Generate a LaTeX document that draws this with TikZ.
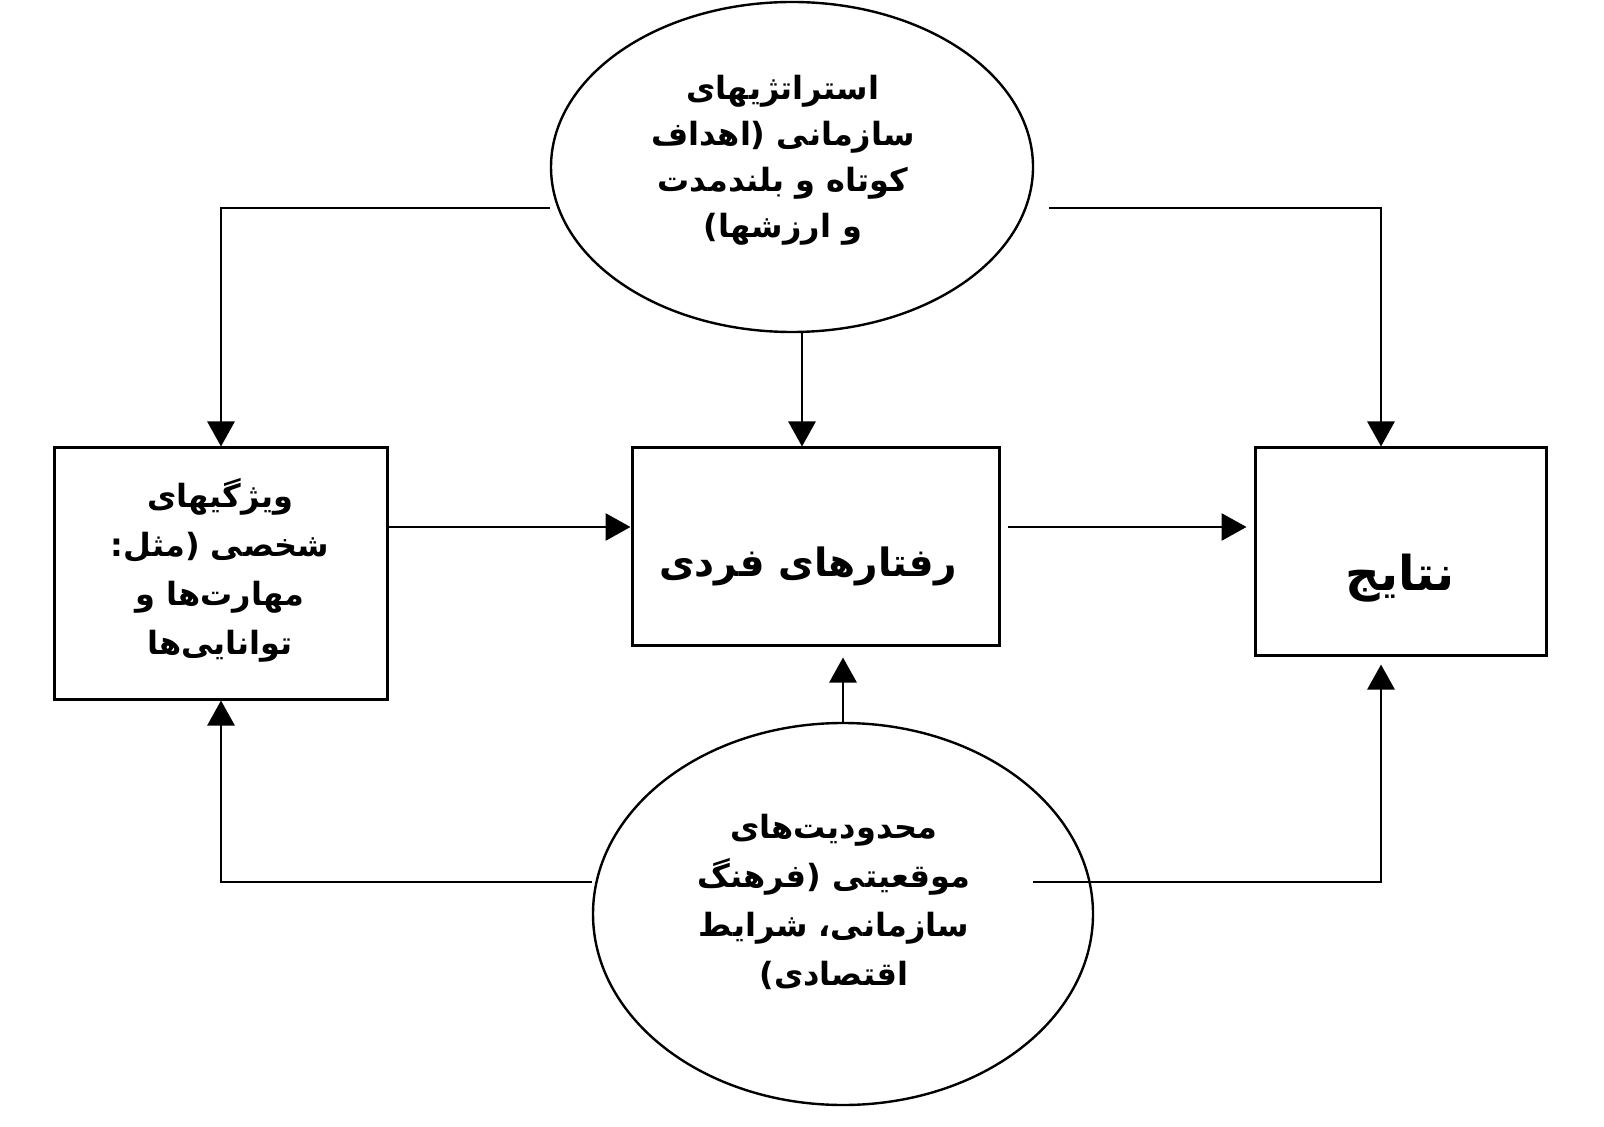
\documentclass[tikz,border=0pt]{standalone}
\usepackage{fontspec}
\usetikzlibrary{shapes.geometric,arrows.meta,calc}
\TeXXeTstate=1
\newfontfamily\arabicfont[Script=Arabic]{DejaVu Sans}
\newcommand\fa[1]{\beginR #1\endR}
\begin{document}
\begin{tikzpicture}[x=0.5pt,y=-0.5pt,
  box/.style={draw,line width=1.5pt,inner sep=0pt},
  ell/.style={draw,ellipse,line width=1.2pt,inner sep=0pt},
  txt/.style={font=\arabicfont\bfseries\fontsize{16}{23}\selectfont,align=center,inner sep=0pt},
  txtb/.style={font=\arabicfont\bfseries\fontsize{16}{24.5}\selectfont,align=center,inner sep=0pt},
  midtxt/.style={font=\arabicfont\bfseries\fontsize{19.5}{24}\selectfont,inner sep=0pt},
  bigtxt/.style={font=\arabicfont\bfseries\fontsize{24}{28}\selectfont,inner sep=0pt},
  conn/.style={line width=1.4pt},
  arr/.style={conn,-{Triangle[length=12.5pt,width=13.5pt]}}]
\useasboundingbox (0,0) rectangle (1604,1127);
\fill[white] (0,0) rectangle (1604,1127);
% shapes
\node[ell,minimum width=241pt,minimum height=165pt] (top) at (792,167) {};
\node[ell,minimum width=250pt,minimum height=191pt] (bot) at (843,914) {};
\node[box,minimum width=166.5pt,minimum height=125.5pt] (lbox) at (220.5,573.5) {};
\node[box,minimum width=183.5pt,minimum height=98.5pt] (cbox) at (815.5,546.5) {};
\node[box,minimum width=145.5pt,minimum height=103.5pt] (rbox) at (1400.5,551.5) {};
% texts
\node[txt] (ttop) at (783,160) {\fa{استراتژیهای}\\\fa{سازمانی (اهداف}\\\fa{کوتاه و بلندمدت}\\\fa{و ارزشها)}};
\node[txtb] (tleft) at (220,570) {\fa{ویژگیهای}\\\fa{شخصی (مثل:}\\\fa{مهارت‌ها و}\\\fa{توانایی‌ها}};
\node[midtxt] (tcen) at (808,566) {\fa{رفتارهای فردی}};
\node[bigtxt] (tright) at (1400,578) {\fa{نتایج}};
\node[txtb] (tbot) at (834,902) {\fa{محدودیت‌های}\\\fa{موقعیتی (فرهنگ}\\\fa{سازمانی، شرایط}\\\fa{اقتصادی)}};
% helper coordinates
\coordinate (yT) at (0,208);
\coordinate (yM) at (0,527);
\coordinate (yB) at (0,882);
\coordinate (xL) at (221,0);
\coordinate (xR) at (1381,0);
\coordinate (trs) at (1049,208);
\coordinate (brs) at (1033,882);
% connectors
\draw[arr] (top.west |- yT) -- (xL |- yT) -- (xL |- lbox.north);
\draw[arr] (trs) -- (xR |- yT) -- (xR |- rbox.north);
\draw[arr] ([xshift=5pt]top.south) -- ([xshift=5pt]top.south |- cbox.north);
\draw[arr] (lbox.east |- yM) -- (cbox.west |- yM);
\draw[arr,shorten <=3.5pt,shorten >=3.5pt] (cbox.east |- yM) -- (rbox.west |- yM);
\draw[arr,shorten >=5.5pt] (bot.north) -- (bot.north |- cbox.south);
\draw[arr] (bot.west |- yB) -- (xL |- yB) -- (xL |- lbox.south);
\draw[arr,shorten >=4pt] (brs) -- (xR |- yB) -- (xR |- rbox.south);
\end{tikzpicture}
\end{document}
